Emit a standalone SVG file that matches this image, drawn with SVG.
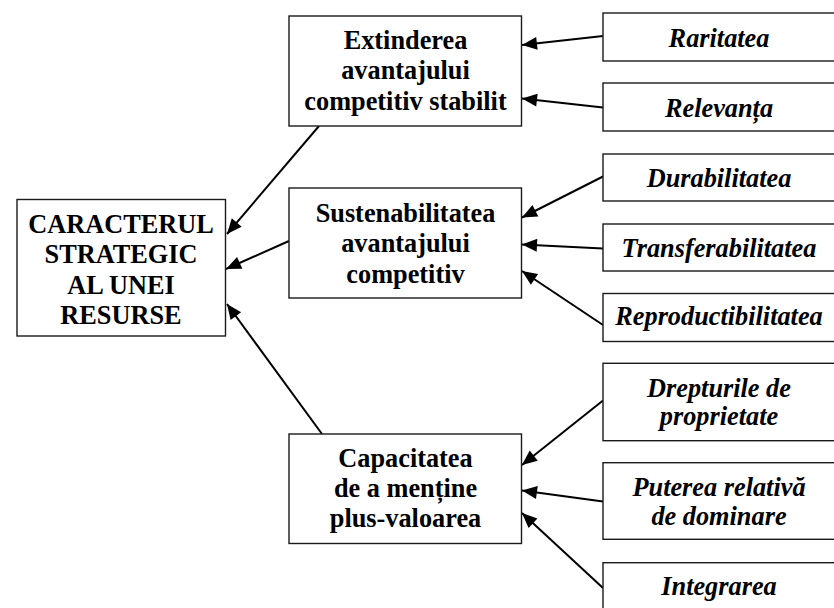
<svg xmlns="http://www.w3.org/2000/svg" width="834" height="608" viewBox="0 0 834 608">
<defs>
<path id="ah" d="M0,0 L-15,-6.5 L-15,6.5 z" fill="#000"/>
</defs>
<rect width="834" height="608" fill="#fff"/>
<g id="connectors">
<g fill="none" stroke="#000" stroke-width="2">
<line x1="319" y1="126" x2="227" y2="234"/>
<line x1="289" y1="241" x2="226" y2="269"/>
<line x1="322" y1="434" x2="227" y2="304"/>
<line x1="603" y1="36" x2="522" y2="45"/>
<line x1="603" y1="107.5" x2="522" y2="98.5"/>
<line x1="603" y1="176.5" x2="522" y2="217.5"/>
<line x1="603" y1="248.5" x2="522" y2="244.5"/>
<line x1="603" y1="325" x2="522" y2="271"/>
<line x1="603" y1="400.5" x2="522" y2="465"/>
<line x1="603" y1="501.5" x2="522" y2="490.5"/>
<line x1="603" y1="588" x2="522" y2="513"/>
</g>
<use href="#ah" transform="translate(227,234) rotate(130.43)"/>
<use href="#ah" transform="translate(226,269) rotate(156.04)"/>
<use href="#ah" transform="translate(227,304) rotate(-126.16)"/>
<use href="#ah" transform="translate(522,45) rotate(173.66)"/>
<use href="#ah" transform="translate(522,98.5) rotate(-173.66)"/>
<use href="#ah" transform="translate(522,217.5) rotate(153.16)"/>
<use href="#ah" transform="translate(522,244.5) rotate(-177.17)"/>
<use href="#ah" transform="translate(522,271) rotate(-146.31)"/>
<use href="#ah" transform="translate(522,465) rotate(141.47)"/>
<use href="#ah" transform="translate(522,490.5) rotate(-172.27)"/>
<use href="#ah" transform="translate(522,513) rotate(-137.2)"/>
</g>
<g id="nodes" font-family="Liberation Serif, serif" font-weight="bold" font-size="26.3" text-anchor="middle" fill="#000">
<g id="central">
<rect x="17" y="199.5" width="208.5" height="136.5" fill="#fff" stroke="#1a1a1a" stroke-width="1.4"/>
<text x="121" y="233">CARACTERUL</text>
<text x="121" y="263">STRATEGIC</text>
<text x="121" y="293.5">AL UNEI</text>
<text x="121" y="324">RESURSE</text>
</g>
<g id="extinderea">
<rect x="289" y="16" width="232.5" height="110" fill="#fff" stroke="#1a1a1a" stroke-width="1.4"/>
<text x="405.5" y="48.7">Extinderea</text>
<text x="405.5" y="79.3">avantajului</text>
<text x="405.5" y="110">competitiv stabilit</text>
</g>
<g id="sustenabilitatea">
<rect x="289" y="188" width="232.5" height="110" fill="#fff" stroke="#1a1a1a" stroke-width="1.4"/>
<text x="405.5" y="221.7">Sustenabilitatea</text>
<text x="405.5" y="252.3">avantajului</text>
<text x="405.5" y="283.3">competitiv</text>
</g>
<g id="capacitatea">
<rect x="289" y="434" width="232.5" height="109.5" fill="#fff" stroke="#1a1a1a" stroke-width="1.4"/>
<text x="405.5" y="466.7">Capacitatea</text>
<text x="405.5" y="496.7">de a menține</text>
<text x="405.5" y="526.7">plus-valoarea</text>
</g>
<g font-style="italic">
<g id="raritatea">
<rect x="603" y="13" width="240" height="48" fill="#fff" stroke="#1a1a1a" stroke-width="1.4"/>
<text x="719" y="46.7">Raritatea</text>
</g>
<g id="relevanta">
<rect x="603" y="83" width="240" height="48" fill="#fff" stroke="#1a1a1a" stroke-width="1.4"/>
<text x="719" y="116.7">Relevanța</text>
</g>
<g id="durabilitatea">
<rect x="603" y="154" width="240" height="47" fill="#fff" stroke="#1a1a1a" stroke-width="1.4"/>
<text x="719" y="186.7">Durabilitatea</text>
</g>
<g id="transferabilitatea">
<rect x="603" y="224" width="240" height="47" fill="#fff" stroke="#1a1a1a" stroke-width="1.4"/>
<text x="719" y="256.7">Transferabilitatea</text>
</g>
<g id="reproductibilitatea">
<rect x="603" y="293.5" width="240" height="48" fill="#fff" stroke="#1a1a1a" stroke-width="1.4"/>
<text x="719" y="325">Reproductibilitatea</text>
</g>
<g id="drepturile">
<rect x="603" y="363.3" width="240" height="77.4" fill="#fff" stroke="#1a1a1a" stroke-width="1.4"/>
<text x="719" y="396.7">Drepturile de</text>
<text x="719" y="424.5">proprietate</text>
</g>
<g id="puterea">
<rect x="603" y="462.7" width="240" height="76.6" fill="#fff" stroke="#1a1a1a" stroke-width="1.4"/>
<text x="719" y="495.7">Puterea relativă</text>
<text x="719" y="525">de dominare</text>
</g>
<g id="integrarea">
<rect x="603" y="562.7" width="240" height="60" fill="#fff" stroke="#1a1a1a" stroke-width="1.4"/>
<text x="719" y="595">Integrarea</text>
</g>
</g>
</g>
</svg>
